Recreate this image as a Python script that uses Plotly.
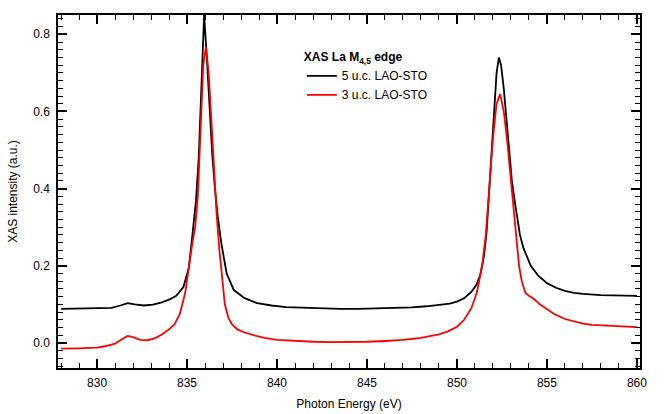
import plotly.graph_objects as go

# Black series: 5 u.c. LAO-STO
energy_5uc = [828.0, 829.0, 830.0, 830.8, 831.3, 831.7, 832.1, 832.6, 833.1, 833.6,
              834.0, 834.4, 834.8, 835.1, 835.3, 835.5, 835.65, 835.8, 835.95, 836.1,
              836.25, 836.4, 836.55, 836.7, 836.9, 837.2, 837.6, 838.2, 838.9, 839.7,
              840.5, 841.5, 842.5, 843.5, 844.5, 845.5, 846.5, 847.5, 848.3, 849.0,
              849.6, 850.0, 850.4, 850.8, 851.1, 851.3, 851.5, 851.65, 851.8, 851.95,
              852.1, 852.2, 852.33, 852.45, 852.6, 852.75, 852.9, 853.05, 853.2, 853.35,
              853.5, 853.7, 853.9, 854.1, 854.5, 855.0, 855.5, 856.0, 856.5, 857.0,
              858.0, 859.0, 860.0]
intensity_5uc = [0.088, 0.089, 0.089, 0.091, 0.097, 0.103, 0.100, 0.097, 0.099, 0.105,
                 0.112, 0.122, 0.145, 0.195, 0.28, 0.37, 0.48, 0.65, 0.85, 0.74,
                 0.60, 0.49, 0.40, 0.33, 0.26, 0.18, 0.137, 0.116, 0.103, 0.097,
                 0.093, 0.091, 0.089, 0.088, 0.088, 0.089, 0.090, 0.092, 0.095, 0.098,
                 0.102, 0.107, 0.116, 0.132, 0.152, 0.178, 0.225, 0.29, 0.40, 0.53,
                 0.64, 0.70, 0.74, 0.72, 0.66, 0.58, 0.50, 0.42, 0.37, 0.325,
                 0.28, 0.245, 0.22, 0.20, 0.175, 0.155, 0.143, 0.135, 0.13, 0.127,
                 0.124, 0.123, 0.122]

# Red series: 3 u.c. LAO-STO
energy_3uc = [828.0, 828.5, 829.0, 829.5, 830.0, 830.5, 831.0, 831.4, 831.7, 832.0,
              832.4, 832.8, 833.2, 833.6, 834.0, 834.3, 834.6, 834.9, 835.1, 835.3,
              835.45, 835.6, 835.75, 835.9, 836.05, 836.2, 836.35, 836.5, 836.65, 836.8,
              836.95, 837.1, 837.3, 837.5, 837.8, 838.2, 838.7, 839.3, 840.0, 841.0,
              842.0, 843.0, 844.0, 845.0, 846.0, 847.0, 848.0, 848.5, 849.0, 849.5,
              850.0, 850.4, 850.8, 851.1, 851.4, 851.6, 851.8, 852.0, 852.2, 852.4,
              852.6, 852.8, 853.0, 853.15, 853.3, 853.45, 853.6, 853.8, 854.0, 854.3,
              854.6, 855.0, 855.4, 856.0, 856.5, 857.0, 857.5, 858.5, 859.5, 860.0]
intensity_3uc = [-0.015, -0.015, -0.014, -0.013, -0.012, -0.008, -0.002, 0.010, 0.018, 0.015,
                 0.008, 0.007, 0.012, 0.022, 0.035, 0.048, 0.075, 0.13, 0.20, 0.26,
                 0.30, 0.38, 0.55, 0.72, 0.767, 0.70, 0.58, 0.45, 0.33, 0.24,
                 0.17, 0.10, 0.065, 0.048, 0.035, 0.027, 0.020, 0.013, 0.008, 0.005,
                 0.003, 0.002, 0.002, 0.003, 0.005, 0.008, 0.013, 0.017, 0.022, 0.030,
                 0.042, 0.06, 0.09, 0.13, 0.20, 0.28, 0.40, 0.53, 0.62, 0.645,
                 0.60, 0.52, 0.42, 0.35, 0.27, 0.20, 0.16, 0.13, 0.122, 0.113,
                 0.10, 0.088, 0.075, 0.062, 0.055, 0.050, 0.047, 0.044, 0.042, 0.041]

x_tick_start, x_tick_step = 830, 5
y_tick_start, y_tick_step = 0.0, 0.2

FONT = "Liberation Sans, Arial, Helvetica, sans-serif"

fig = go.Figure()
fig.add_trace(go.Scatter(x=energy_5uc, y=intensity_5uc, mode="lines",
                         name="5 u.c. LAO-STO",
                         line=dict(color="#000000", width=1.8)))
fig.add_trace(go.Scatter(x=energy_3uc, y=intensity_3uc, mode="lines",
                         name="3 u.c. LAO-STO",
                         line=dict(color="#ff0000", width=1.8)))

axis_common = dict(
    showline=True, linecolor="black", linewidth=1.5, mirror="allticks",
    ticks="inside", ticklen=9, tickwidth=1.5, tickcolor="black",
    showgrid=False, zeroline=False, automargin=False,
    tickfont=dict(family=FONT, size=12, color="black"),
)

fig.update_xaxes(
    range=[827.83, 860.17], tickmode="linear", tick0=x_tick_start, dtick=x_tick_step,
    ticklabelstandoff=3,
    title=dict(text="Photon Energy (eV)", font=dict(family=FONT, size=12, color="black"),
               standoff=10),
    minor=dict(dtick=1, tick0=x_tick_start, ticks="inside", ticklen=5, tickwidth=1.3,
               tickcolor="black", showgrid=False),
    **axis_common)
fig.update_yaxes(
    range=[-0.065, 0.85], tickmode="linear", tick0=y_tick_start, dtick=y_tick_step,
    tickformat=".1f", ticklabelstandoff=4,
    title=dict(text="XAS intensity (a.u.)", font=dict(family=FONT, size=12, color="black"),
               standoff=13),
    minor=dict(dtick=0.02, tick0=y_tick_start, ticks="inside", ticklen=5, tickwidth=1.3,
               tickcolor="black", showgrid=False),
    **axis_common)

fig.update_layout(
    width=664, height=414,
    margin=dict(l=58, r=24, t=15, b=46),
    plot_bgcolor="white", paper_bgcolor="white",
    hovermode=False,
    font=dict(family=FONT, size=12, color="black"),
    legend=dict(
        x=0.419, y=0.913, xanchor="left", yanchor="top",
        bgcolor="rgba(0,0,0,0)", borderwidth=0,
        title=dict(text="<b>XAS La M<sub>4,5</sub> edge</b>", font=dict(family=FONT, size=12)),
        font=dict(family=FONT, size=12), itemwidth=30, tracegroupgap=0,
    ),
)

fig.write_html("out.html", config={"displayModeBar": False},
               post_script="document.body.style.margin='0px';")
